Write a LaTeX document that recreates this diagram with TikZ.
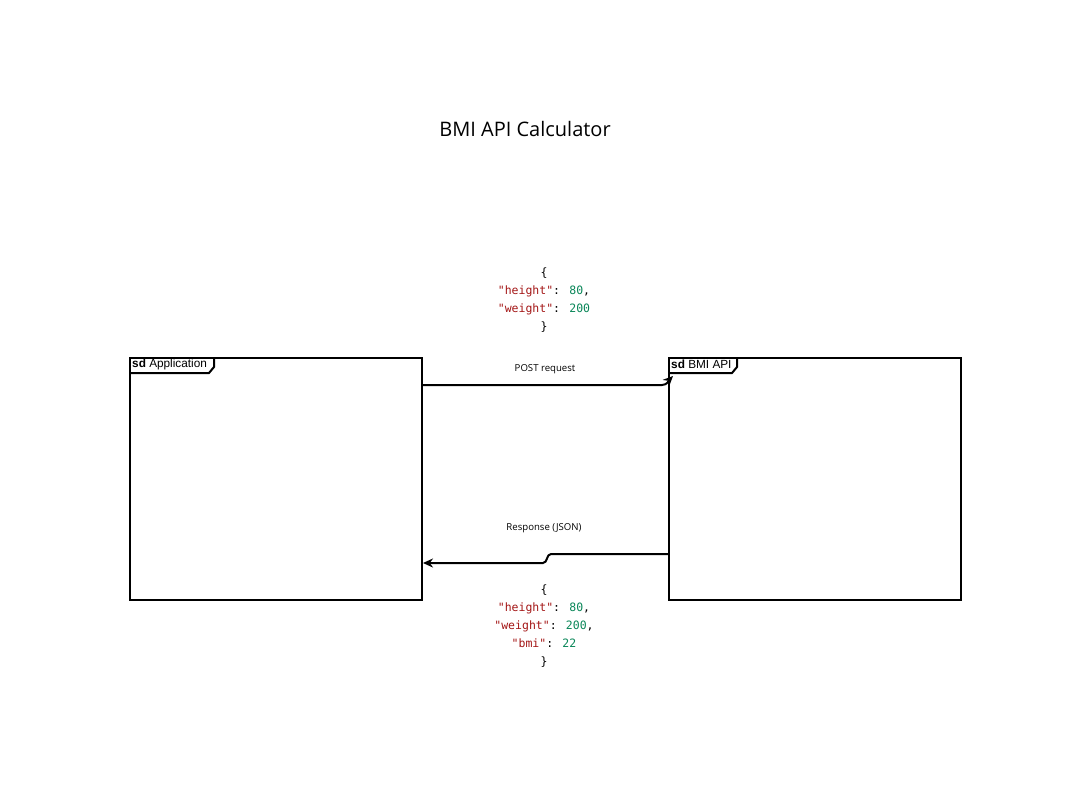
\documentclass[tikz,border=0pt]{standalone}
\usepackage{fontspec}
\setmainfont{Open Sans}
\newfontfamily\monof{DejaVu Sans Mono}
\newfontfamily\arialf{Liberation Sans}
\usetikzlibrary{arrows.meta}
\definecolor{jkey}{HTML}{A31515}
\definecolor{jnum}{HTML}{098658}
\begin{document}
\begin{tikzpicture}[x=1pt,y=-1pt,
  frame/.style={draw, line width=2pt, minimum width=292pt, minimum height=242pt, anchor=north west, inner sep=0},
  tablbl/.style={font=\arialf\fontsize{11.8}{12}\selectfont, anchor=west, inner sep=0},
  msg/.style={line width=2pt, -{Stealth[length=10pt,width=9pt]}},
  lbl/.style={font=\fontsize{9.6}{11}\selectfont, inner sep=0},
  json/.style={font=\monof\fontsize{11.5}{18}\selectfont, align=center, inner sep=0}]
\useasboundingbox (0,0) rectangle (1086,784);
\node[font=\fontsize{20}{24}\selectfont] (title) at (525,129) {BMI API Calculator};
% frames
\node[frame] (app) at (129,357) {};
\node[frame] (api) at (668,357) {};
\draw[line width=2pt] (app.north west) ++(0,16) -- ++(80,0) -- ++(5,-6) -- ++(0,-10);
\draw[line width=2pt] (api.north west) ++(0,16) -- ++(64,0) -- ++(5,-6) -- ++(0,-10);
\node[tablbl] (apptab) at (132,364.5) {\textbf{sd} Application};
\node[tablbl] (apitab) at (671,364.5) {\textbf{sd} BMI API};
% POST
\coordinate (p1) at (app.north east |- 0,385);
\coordinate (p2) at (662,385);
\coordinate (p3) at (673,376);
\draw[msg] (p1) -- (p2) to[out=0,in=225] (p3);
\node[lbl] (postlbl) at (545,369) {POST request};
% Response
\coordinate (r1) at (api.west |- 0,554);
\coordinate (r2) at (551,554);
\coordinate (r3) at (543,563);
\coordinate (r4) at (423,563);
\draw[msg] (r1) -- (r2) to[out=180,in=0] (r3) -- (r4);
\node[lbl] (resplbl) at (544,528) {Response (JSON)};
% JSON
\node[json] (req) at (544,300) {\{\\
\textcolor{jkey}{"height"}: \textcolor{jnum}{80},\\
\textcolor{jkey}{"weight"}: \textcolor{jnum}{200}\\
\}};
\node[json] (res) at (544,626.5) {\{\\
\textcolor{jkey}{"height"}: \textcolor{jnum}{80},\\
\textcolor{jkey}{"weight"}: \textcolor{jnum}{200},\\
\textcolor{jkey}{"bmi"}: \textcolor{jnum}{22}\\
\}};
\end{tikzpicture}
\end{document}
